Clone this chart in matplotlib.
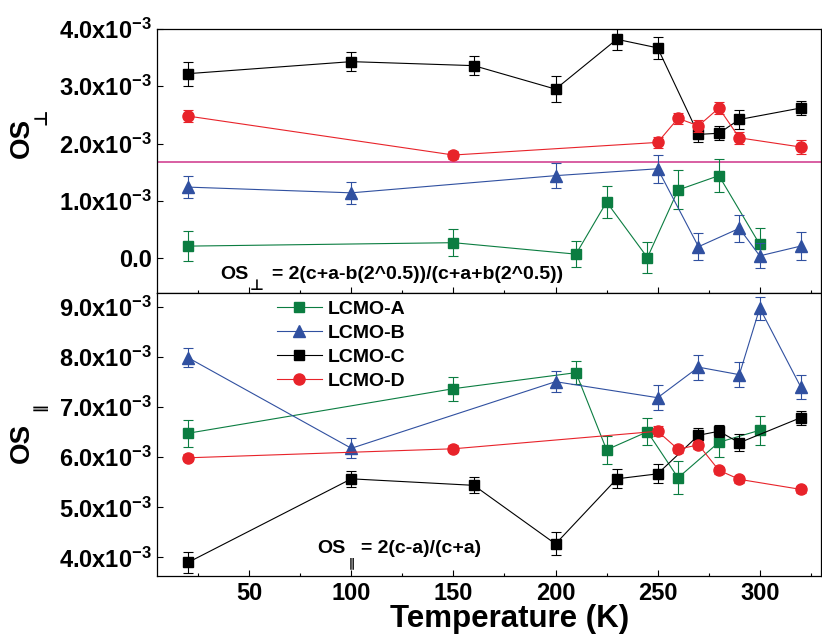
import matplotlib
matplotlib.use("Agg")
import matplotlib.pyplot as plt
from matplotlib.lines import Line2D
from matplotlib.ticker import MultipleLocator, FixedLocator

plt.rcParams["font.family"] = ["Liberation Sans", "DejaVu Sans"]
plt.rcParams["font.weight"] = "bold"
plt.rcParams["mathtext.fontset"] = "custom"
plt.rcParams["mathtext.rm"] = "Liberation Sans:bold"
plt.rcParams["mathtext.it"] = "Liberation Sans:bold"
plt.rcParams["mathtext.bf"] = "Liberation Sans:bold"
plt.rcParams["mathtext.sf"] = "Liberation Sans:bold"

# ── data (values in units of 1e-3) ────────────────────────────────────────────
labels = ["LCMO-A", "LCMO-B", "LCMO-C", "LCMO-D"]

t_a = [20, 150, 210, 225, 245, 260, 280, 300]
t_b = [20, 100, 200, 250, 270, 290, 300, 320]
t_c = [20, 100, 160, 200, 230, 250, 270, 280, 290, 320]
t_d = [20, 150, 250, 260, 270, 280, 290, 320]

perp_a = [0.21, 0.27, 0.07, 0.98, 0.01, 1.19, 1.44, 0.24]
perp_a_err = [0.26, 0.24, 0.23, 0.28, 0.27, 0.34, 0.29, 0.28]
perp_b = [1.24, 1.14, 1.44, 1.56, 0.20, 0.52, 0.04, 0.21]
perp_b_err = [0.19, 0.19, 0.22, 0.24, 0.24, 0.24, 0.22, 0.24]
perp_c = [3.22, 3.43, 3.36, 2.95, 3.82, 3.67, 2.16, 2.18, 2.42, 2.62]
perp_c_err = [0.21, 0.16, 0.16, 0.23, 0.18, 0.19, 0.13, 0.12, 0.16, 0.12]
perp_d = [2.48, 1.80, 2.02, 2.44, 2.31, 2.62, 2.10, 1.94]
perp_d_err = [0.10, 0.07, 0.09, 0.09, 0.10, 0.10, 0.10, 0.12]

par_a = [6.48, 7.37, 7.69, 6.15, 6.51, 5.59, 6.30, 6.54]
par_a_err = [0.27, 0.24, 0.23, 0.28, 0.27, 0.33, 0.29, 0.29]
par_b = [7.99, 6.18, 7.51, 7.19, 7.80, 7.65, 8.98, 7.41]
par_b_err = [0.19, 0.20, 0.21, 0.25, 0.25, 0.25, 0.23, 0.24]
par_c = [3.90, 5.57, 5.44, 4.27, 5.57, 5.67, 6.44, 6.52, 6.29, 6.79]
par_c_err = [0.21, 0.16, 0.16, 0.23, 0.19, 0.19, 0.14, 0.12, 0.17, 0.14]
par_d = [5.99, 6.17, 6.52, 6.16, 6.25, 5.74, 5.56, 5.36]
par_d_err = [0.07, 0.07, 0.10, 0.08, 0.08, 0.07, 0.07, 0.07]

ref_line = 1.68

perp_ticks = [0, 1, 2, 3, 4]
par_ticks = [4, 5, 6, 7, 8, 9]

# ── styles ────────────────────────────────────────────────────────────────────
COLORS = ["#0b7d41", "#3050a0", "#000000", "#e8232a"]
MARKERS = ["s", "^", "s", "o"]
MSIZE = [7, 9, 7, 8]
W, H = 822, 634
SYMF = ["DejaVu Sans"]


def tick_label(v):
    if v == 0:
        return "0.0"
    return f"{v:.1f}x10$^{{-3}}$"


def px(x, y):
    """pixel (from top-left) -> figure fraction"""
    return x / W, 1 - y / H


fig = plt.figure(figsize=(8.22, 6.34), dpi=100)
ax_top = fig.add_axes([0.1914, 0.5386, 0.8074, 0.4157])
ax_bot = fig.add_axes([0.1914, 0.0907, 0.8074, 0.4479], sharex=ax_top)

series_top = [(t_a, perp_a, perp_a_err), (t_b, perp_b, perp_b_err),
              (t_c, perp_c, perp_c_err), (t_d, perp_d, perp_d_err)]
series_bot = [(t_a, par_a, par_a_err), (t_b, par_b, par_b_err),
              (t_c, par_c, par_c_err), (t_d, par_d, par_d_err)]

for ax, series in ((ax_top, series_top), (ax_bot, series_bot)):
    for i, (t, v, e) in enumerate(series):
        ax.errorbar(t, v, yerr=e, color=COLORS[i], marker=MARKERS[i],
                    ms=MSIZE[i], lw=0.8, elinewidth=0.8, capsize=3.5,
                    capthick=0.8, mec=COLORS[i], mfc=COLORS[i], zorder=3 + i)

ax_top.axhline(ref_line, color="#d6529b", lw=1.3, zorder=2)

ax_top.set_xlim(5, 330)
ax_top.set_ylim(-0.6, 4.0)
ax_bot.set_ylim(3.62, 9.29)

for ax, ticks in ((ax_top, perp_ticks), (ax_bot, par_ticks)):
    ax.yaxis.set_major_locator(FixedLocator(ticks))
    ax.set_yticklabels([tick_label(v) for v in ticks])
    ax.tick_params(axis="both", direction="in", length=4, width=0.8,
                   labelsize=17, pad=4)
    ax.tick_params(axis="x", which="minor", direction="in", length=2.5, width=0.8)
    for sp in ax.spines.values():
        sp.set_linewidth(0.9)

ax_bot.xaxis.set_minor_locator(MultipleLocator(25))
ax_bot.set_xticks([50, 100, 150, 200, 250, 300])
plt.setp(ax_top.get_xticklabels(), visible=False)

# axis labels
fig.text(*px(510, 627), "Temperature (K)", fontsize=22.5,
         fontweight="bold", ha="center", va="baseline")
fig.text(*px(22, 138), "OS", fontsize=20, fontweight="bold",
         rotation=90, ha="center", va="center")
fig.text(*px(41, 117), "\u22a5", fontsize=13, fontweight="bold",
         family=SYMF, rotation=90, ha="center", va="center")
fig.text(*px(22, 443), "OS", fontsize=20, fontweight="bold",
         rotation=90, ha="center", va="center")
fig.text(*px(40, 407), "\u2225", fontsize=11, fontweight="bold",
         family=SYMF, rotation=90, ha="center", va="center")

# formula annotations
fig.text(*px(220.7, 279), "OS", fontsize=14, fontweight="bold",
         ha="left", va="baseline")
fig.text(*px(256.5, 285.5), "\u22a5", fontsize=11, fontweight="bold",
         family=SYMF, ha="center", va="center")
fig.text(*px(271.7, 279), "= 2(c+a-b(2^0.5))/(c+a+b(2^0.5))", fontsize=14,
         fontweight="bold", ha="left", va="baseline")

fig.text(*px(317.3, 553.3), "OS", fontsize=14, fontweight="bold",
         ha="left", va="baseline")
fig.text(*px(352, 563), "\u2225", fontsize=8.5, fontweight="bold",
         family=SYMF, ha="center", va="center")
fig.text(*px(361, 553.3), "= 2(c-a)/(c+a)", fontsize=14, fontweight="bold",
         ha="left", va="baseline")

# legend
handles = [Line2D([], [], color=COLORS[i], marker=MARKERS[i], ms=MSIZE[i],
                  lw=0.8, mec=COLORS[i], mfc=COLORS[i]) for i in range(4)]
ax_bot.legend(handles, labels, loc="upper left", bbox_to_anchor=(0.18, 0.972),
              frameon=False, handlelength=2.3, handletextpad=0.3,
              labelspacing=0.33, borderpad=0, borderaxespad=0,
              prop={"weight": "bold", "size": 14})

fig.savefig("out.png", dpi=100)
plt.close(fig)
